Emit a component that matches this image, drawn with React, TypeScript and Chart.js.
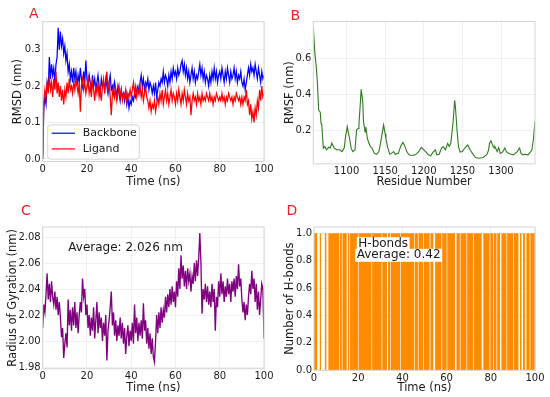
import React, { useEffect, useRef } from "react";
import { Chart, registerables } from "chart.js";

Chart.register(...registerables);

// ---------------- shared look ----------------
const FONT = "'DejaVu Sans', 'Liberation Sans', Arial, sans-serif";
const TEXT = "#1a1a1a";
const GRID = "#ececec";
const FRAME = "#d4d4d4";
const TICK_SIZE = 10;
const TITLE_SIZE = 11.5;
const PANEL_RED = "#ee2222";

// ---------------- Panel A: RMSD ----------------
const SAMPLE_STEP_NS = 0.5;
const timeTicks = [0, 20, 40, 60, 80, 100];
const rmsdTicks = [0.0, 0.1, 0.2, 0.3];
const backboneRmsd = [
  0.00, 0.14, 0.17, 0.15, 0.21, 0.19, 0.28, 0.22, 0.26, 0.23, 0.25, 0.21, 0.26, 0.28, 0.36, 0.30, 0.35, 0.31, 0.33, 0.29,
  0.31, 0.27, 0.29, 0.24, 0.26, 0.22, 0.24, 0.21, 0.25, 0.22, 0.24, 0.20, 0.23, 0.21, 0.25, 0.22, 0.20, 0.24, 0.21, 0.27,
  0.22, 0.20, 0.23, 0.21, 0.19, 0.23, 0.20, 0.22, 0.19, 0.21, 0.23, 0.20, 0.18, 0.22, 0.20, 0.21, 0.19, 0.22, 0.20, 0.18,
  0.21, 0.23, 0.19, 0.20, 0.18, 0.21, 0.19, 0.17, 0.20, 0.18, 0.16, 0.19, 0.17, 0.18, 0.16, 0.19, 0.15, 0.17, 0.14, 0.16,
  0.15, 0.17, 0.16, 0.18, 0.17, 0.19, 0.20, 0.18, 0.21, 0.23, 0.20, 0.22, 0.19, 0.21, 0.20, 0.22, 0.19, 0.21, 0.20, 0.18,
  0.20, 0.18, 0.21, 0.17, 0.19, 0.21, 0.20, 0.22, 0.21, 0.24, 0.21, 0.23, 0.22, 0.20, 0.23, 0.21, 0.24, 0.22, 0.25, 0.23,
  0.24, 0.22, 0.25, 0.23, 0.24, 0.26, 0.27, 0.24, 0.26, 0.23, 0.25, 0.22, 0.24, 0.21, 0.23, 0.25, 0.22, 0.24, 0.21, 0.23,
  0.22, 0.24, 0.26, 0.23, 0.25, 0.22, 0.24, 0.21, 0.23, 0.22, 0.20, 0.23, 0.21, 0.24, 0.22, 0.25, 0.22, 0.24, 0.21, 0.23,
  0.24, 0.22, 0.25, 0.23, 0.21, 0.24, 0.22, 0.25, 0.23, 0.21, 0.24, 0.22, 0.23, 0.25, 0.22, 0.24, 0.21, 0.23, 0.22, 0.24,
  0.21, 0.20, 0.22, 0.19, 0.21, 0.23, 0.25, 0.23, 0.26, 0.24, 0.25, 0.23, 0.26, 0.24, 0.22, 0.25, 0.23, 0.21, 0.24, 0.22,
  0.23,
];
const ligandRmsd = [
  0.00, 0.16, 0.19, 0.17, 0.21, 0.18, 0.23, 0.19, 0.21, 0.17, 0.22, 0.19, 0.24, 0.18, 0.21, 0.17, 0.20, 0.16, 0.19, 0.15,
  0.19, 0.17, 0.21, 0.18, 0.22, 0.19, 0.20, 0.18, 0.21, 0.19, 0.22, 0.20, 0.18, 0.21, 0.13, 0.20, 0.22, 0.19, 0.21, 0.18,
  0.20, 0.22, 0.18, 0.20, 0.17, 0.21, 0.19, 0.16, 0.20, 0.18, 0.21, 0.17, 0.19, 0.16, 0.20, 0.22, 0.18, 0.21, 0.24, 0.19,
  0.21, 0.17, 0.12, 0.18, 0.20, 0.17, 0.19, 0.16, 0.18, 0.20, 0.17, 0.19, 0.16, 0.18, 0.17, 0.19, 0.16, 0.18, 0.17, 0.19,
  0.17, 0.19, 0.21, 0.18, 0.20, 0.17, 0.19, 0.18, 0.20, 0.17, 0.19, 0.16, 0.18, 0.20, 0.17, 0.16, 0.14, 0.16, 0.13, 0.15,
  0.14, 0.16, 0.13, 0.15, 0.17, 0.15, 0.18, 0.16, 0.19, 0.15, 0.17, 0.19, 0.16, 0.18, 0.15, 0.17, 0.19, 0.16, 0.18, 0.17,
  0.15, 0.18, 0.16, 0.19, 0.17, 0.15, 0.18, 0.16, 0.19, 0.17, 0.15, 0.18, 0.16, 0.17, 0.12, 0.16, 0.18, 0.16, 0.17, 0.15,
  0.18, 0.16, 0.17, 0.15, 0.18, 0.16, 0.17, 0.16, 0.18, 0.17, 0.16, 0.18, 0.16, 0.17, 0.15, 0.17, 0.16, 0.18, 0.17, 0.16,
  0.17, 0.16, 0.18, 0.16, 0.17, 0.15, 0.17, 0.16, 0.18, 0.17, 0.16, 0.17, 0.15, 0.17, 0.16, 0.18, 0.17, 0.16, 0.17, 0.15,
  0.17, 0.15, 0.17, 0.16, 0.19, 0.15, 0.16, 0.12, 0.15, 0.11, 0.13, 0.10, 0.14, 0.12, 0.16, 0.14, 0.19, 0.16, 0.20, 0.17,
  0.18,
];
const rmsdLegend = [
  { label: "Backbone", color: "#0000ff" },
  { label: "Ligand", color: "#ff0000" },
];

// ---------------- Panel B: RMSF ----------------
const residueTicks = [1100, 1150, 1200, 1250, 1300];
const rmsfTicks = [0.2, 0.4, 0.6];
const rmsfResidues = [
  1057, 1059, 1061, 1062, 1064, 1066, 1067, 1068, 1070, 1072, 1074, 1077, 1079, 1081, 1084, 1087, 1091, 1094, 1097, 1099,
  1101, 1103, 1104, 1106, 1108, 1111, 1113, 1115, 1116, 1118, 1119, 1121, 1122, 1124, 1125, 1127, 1129, 1131, 1133, 1136,
  1139, 1142, 1144, 1148, 1150, 1151, 1153, 1156, 1158, 1161, 1163, 1167, 1170, 1173, 1175, 1178, 1181, 1184, 1189, 1193,
  1197, 1200, 1203, 1206, 1209, 1212, 1215, 1217, 1220, 1223, 1225, 1228, 1231, 1233, 1235, 1238, 1240, 1241, 1243, 1245,
  1247, 1250, 1253, 1254, 1257, 1260, 1263, 1267, 1271, 1277, 1282, 1284, 1285, 1287, 1289, 1291, 1292, 1295, 1297, 1299,
  1302, 1305, 1307, 1310, 1313, 1316, 1321, 1324, 1326, 1328, 1331, 1335, 1338, 1340, 1342, 1344,
];
const rmsfValues = [
  0.771, 0.633, 0.541, 0.486, 0.310, 0.300, 0.237, 0.228, 0.099, 0.108, 0.090, 0.104, 0.100, 0.128, 0.100, 0.090, 0.090, 0.080, 0.100, 0.172,
  0.218, 0.172, 0.153, 0.099, 0.080, 0.090, 0.200, 0.209, 0.228, 0.357, 0.427, 0.357, 0.246, 0.190, 0.218, 0.153, 0.126, 0.108, 0.100, 0.070,
  0.065, 0.080, 0.126, 0.228, 0.180, 0.153, 0.108, 0.065, 0.070, 0.080, 0.065, 0.070, 0.108, 0.131, 0.117, 0.080, 0.062, 0.058, 0.062, 0.077,
  0.103, 0.090, 0.077, 0.062, 0.056, 0.077, 0.090, 0.062, 0.065, 0.100, 0.108, 0.090, 0.126, 0.108, 0.126, 0.246, 0.366, 0.330, 0.200, 0.108,
  0.077, 0.080, 0.100, 0.104, 0.117, 0.090, 0.070, 0.047, 0.043, 0.047, 0.065, 0.090, 0.126, 0.140, 0.117, 0.100, 0.108, 0.080, 0.103, 0.070,
  0.077, 0.100, 0.080, 0.070, 0.065, 0.062, 0.080, 0.100, 0.070, 0.062, 0.065, 0.062, 0.077, 0.090, 0.150, 0.250,
];

// ---------------- Panel C: Radius of gyration ----------------
const rgTicks = [1.98, 2.0, 2.02, 2.04, 2.06, 2.08];
const rgAverageText = "Average: 2.026 nm";
const radiusOfGyration = [
  2.010, 2.028, 2.022, 2.036, 2.052, 2.032, 2.044, 2.030, 2.046, 2.034, 2.028, 2.038, 2.024, 2.034, 2.020, 2.030, 2.018, 2.003, 2.010, 1.987,
  1.998, 2.006, 1.995, 2.032, 2.012, 2.024, 2.008, 2.026, 2.012, 2.030, 2.010, 2.022, 2.006, 2.020, 2.030, 2.022, 2.048, 2.034, 2.040, 2.020,
  2.028, 2.010, 2.020, 2.004, 2.018, 2.008, 2.026, 2.002, 2.016, 2.030, 2.006, 2.022, 2.010, 2.018, 2.000, 2.014, 2.004, 2.020, 1.985, 2.008,
  2.016, 2.026, 2.038, 2.012, 2.022, 2.004, 2.016, 2.000, 2.012, 2.004, 2.018, 2.002, 2.014, 1.998, 2.010, 1.990, 2.004, 2.012, 1.996, 2.008,
  2.000, 2.014, 1.998, 2.028, 2.006, 2.018, 2.000, 2.014, 2.004, 2.016, 2.002, 2.029, 2.008, 2.016, 1.998, 2.010, 1.994, 2.006, 1.990, 2.002,
  1.988, 1.984, 2.000, 2.020, 2.006, 2.022, 2.010, 2.026, 2.014, 2.024, 2.018, 2.034, 2.022, 2.036, 2.026, 2.040, 2.028, 2.042, 2.030, 2.038,
  2.026, 2.046, 2.034, 2.056, 2.040, 2.066, 2.048, 2.058, 2.042, 2.054, 2.040, 2.056, 2.046, 2.052, 2.038, 2.050, 2.044, 2.060, 2.046, 2.062,
  2.050, 2.064, 2.083, 2.060, 2.021, 2.040, 2.032, 2.044, 2.030, 2.042, 2.028, 2.038, 2.026, 2.044, 2.030, 2.040, 2.008, 2.034, 2.026, 2.046,
  2.034, 2.052, 2.036, 2.046, 2.030, 2.042, 2.034, 2.048, 2.036, 2.044, 2.030, 2.046, 2.038, 2.048, 2.034, 2.050, 2.040, 2.059, 2.042, 2.048,
  2.032, 2.022, 2.030, 2.016, 2.028, 2.020, 2.034, 2.044, 2.036, 2.054, 2.040, 2.048, 2.030, 2.044, 2.024, 2.038, 2.020, 2.032, 2.044, 2.040,
  2.002,
];

// ---------------- Panel D: H-bonds ----------------
const hbondTicks = [0.0, 0.2, 0.4, 0.6, 0.8, 1.0];
const hbondLabel = "H-bonds";
const hbondAverageText = "Average: 0.42";
// time windows (ns) in which no hydrogen bond is present
const hbondGaps: [number, number][] = [
  [1.5, 2.6], [3.2, 4.9], [5.6, 6.5], [11.4, 11.7], [12.6, 12.9], [14.8, 15.3], [16.0, 16.3], [20.0, 20.3],
  [26.0, 26.3], [30.6, 30.9], [33.0, 33.5], [34.5, 34.8], [39.0, 39.3], [45.3, 45.6], [47.0, 47.3], [49.4, 49.7],
  [52.3, 52.7], [54.0, 54.8], [57.7, 58.0], [60.0, 60.3], [63.8, 64.5], [66.0, 66.3], [69.0, 69.3], [72.0, 72.3],
  [75.9, 76.6], [79.5, 79.8], [81.0, 81.3], [82.6, 82.9], [84.2, 84.8], [87.1, 87.4], [90.2, 90.5], [92.5, 93.2],
  [93.9, 94.6], [95.5, 96.1], [97.6, 97.9],
];

// ---------------- layout helpers ----------------
type Spec = { L: number; T: number; R: number; B: number; yTitleCX: number; xTitleCY: number };
type AxisDef = { min: number; max: number; ticks: number[]; title: string; format: (v: number) => string };

function geometry(s: Spec) {
  const lh = TITLE_SIZE * 1.2;
  const cl = Math.max(0, Math.floor(s.L - 46));
  const ct = Math.floor(s.T - 12);
  const cr = Math.min(550, Math.ceil(s.R + 14));
  const cb = Math.min(397, Math.ceil(s.xTitleCY + 9));
  return {
    cl, ct, w: cr - cl, h: cb - ct,
    padTop: s.T - ct, padRight: cr - s.R,
    yAxisW: s.L - cl, xAxisH: cb - s.B,
    yTitlePad: s.yTitleCX - cl - lh / 2,
    xTitlePad: cb - s.xTitleCY - lh / 2,
  };
}

function buildScales(g: ReturnType<typeof geometry>, x: AxisDef, y: AxisDef) {
  const tickFont = { family: FONT, size: TICK_SIZE };
  const titleFont = { family: FONT, size: TITLE_SIZE };
  return {
    x: {
      type: "linear",
      min: x.min,
      max: x.max,
      afterBuildTicks: (sc: any) => { sc.ticks = x.ticks.map((value) => ({ value })); },
      afterFit: (sc: any) => { sc.height = g.xAxisH; },
      grid: { color: GRID, lineWidth: 0.8, drawTicks: false },
      border: { display: false },
      ticks: { padding: 2, color: TEXT, font: tickFont, maxRotation: 0, autoSkip: false, callback: (v: any) => x.format(Number(v)) },
      title: { display: true, text: x.title, color: TEXT, font: titleFont, padding: { top: 0, bottom: g.xTitlePad } },
    },
    y: {
      type: "linear",
      min: y.min,
      max: y.max,
      afterBuildTicks: (sc: any) => { sc.ticks = y.ticks.map((value) => ({ value })); },
      afterFit: (sc: any) => { sc.width = g.yAxisW; },
      grid: { color: GRID, lineWidth: 0.8, drawTicks: false },
      border: { display: false },
      ticks: { padding: 2, color: TEXT, font: tickFont, autoSkip: false, callback: (v: any) => y.format(Number(v)) },
      title: { display: true, text: y.title, color: TEXT, font: titleFont, padding: { top: g.yTitlePad, bottom: 0 } },
    },
  };
}

const framePlugin = {
  id: "frame",
  afterDatasetsDraw(chart: any) {
    const { ctx, chartArea: a } = chart;
    ctx.save();
    ctx.strokeStyle = FRAME;
    ctx.lineWidth = 1;
    ctx.strokeRect(a.left, a.top, a.right - a.left, a.bottom - a.top);
    ctx.restore();
  },
};

function baseOptions(g: ReturnType<typeof geometry>, scales: any) {
  return {
    responsive: false,
    maintainAspectRatio: false,
    animation: false,
    devicePixelRatio: 1,
    layout: { padding: { left: 0, top: g.padTop, right: g.padRight, bottom: 0 } },
    plugins: { legend: { display: false }, tooltip: { enabled: false } },
    elements: { point: { radius: 0 }, line: { tension: 0 } },
    scales,
  };
}

function Panel({ spec, make }: { spec: Spec; make: (g: ReturnType<typeof geometry>) => any }) {
  const ref = useRef<HTMLCanvasElement>(null);
  const g = geometry(spec);
  useEffect(() => {
    const chart = new Chart(ref.current as HTMLCanvasElement, make(g));
    return () => chart.destroy();
  }, []);
  return (
    <canvas
      ref={ref}
      width={g.w}
      height={g.h}
      style={{ position: "absolute", left: g.cl, top: g.ct, width: g.w, height: g.h, display: "block" }}
    />
  );
}

const timeSeries = (vals: number[]) => vals.map((v, i) => ({ x: i * SAMPLE_STEP_NS, y: v }));
const fmt1 = (v: number) => v.toFixed(1);
const fmt2 = (v: number) => v.toFixed(2);
const fmt0 = (v: number) => String(Math.round(v));

// ---------------- panel configs ----------------
const specA: Spec = { L: 42.7, T: 21.7, R: 264, B: 161.5, yTitleCX: 18.3, xTitleCY: 181.7 };
const specB: Spec = { L: 313.3, T: 21.5, R: 535, B: 163.8, yTitleCX: 290, xTitleCY: 181.7 };
const specC: Spec = { L: 42.7, T: 227, R: 264, B: 368.7, yTitleCX: 13.3, xTitleCY: 387.7 };
const specD: Spec = { L: 314, T: 227, R: 535, B: 370.3, yTitleCX: 290, xTitleCY: 387.7 };

function makeA(g: any) {
  const legendPlugin = {
    id: "rmsdLegend",
    afterDraw(chart: any) {
      const { ctx, chartArea: a } = chart;
      const bw = 91.6, bh = 34.3;
      const bx = a.left + 5, by = a.bottom - 2.3 - bh;
      ctx.save();
      ctx.beginPath();
      (ctx as any).roundRect(bx, by, bw, bh, 3);
      ctx.fillStyle = "rgba(255,255,255,0.8)";
      ctx.fill();
      ctx.strokeStyle = "#cccccc";
      ctx.lineWidth = 0.8;
      ctx.stroke();
      ctx.font = `11px ${FONT}`;
      ctx.textBaseline = "middle";
      rmsdLegend.forEach((item, i) => {
        const yy = by + 8.3 + i * 15.7;
        ctx.strokeStyle = item.color;
        ctx.lineWidth = 1.2;
        ctx.beginPath();
        ctx.moveTo(bx + 4, yy);
        ctx.lineTo(bx + 27.3, yy);
        ctx.stroke();
        ctx.fillStyle = TEXT;
        ctx.fillText(item.label, bx + 35, yy);
      });
      ctx.restore();
    },
  };
  return {
    type: "line",
    data: {
      datasets: [
        { label: rmsdLegend[0].label, data: timeSeries(backboneRmsd), borderColor: rmsdLegend[0].color, borderWidth: 1.25, order: 2 },
        { label: rmsdLegend[1].label, data: timeSeries(ligandRmsd), borderColor: rmsdLegend[1].color, borderWidth: 1.25, order: 1 },
      ],
    },
    options: baseOptions(g, buildScales(g,
      { min: 0, max: 100, ticks: timeTicks, title: "Time (ns)", format: fmt0 },
      { min: -0.007, max: 0.377, ticks: rmsdTicks, title: "RMSD (nm)", format: fmt1 })),
    plugins: [framePlugin, legendPlugin],
  };
}

function makeB(g: any) {
  return {
    type: "line",
    data: {
      datasets: [
        { label: "RMSF", data: rmsfResidues.map((r, i) => ({ x: r, y: rmsfValues[i] })), borderColor: "#2f7a1f", borderWidth: 1.1 },
      ],
    },
    options: baseOptions(g, buildScales(g,
      { min: 1057, max: 1344, ticks: residueTicks, title: "Residue Number", format: fmt0 },
      { min: 0.012, max: 0.805, ticks: rmsfTicks, title: "RMSF (nm)", format: fmt1 })),
    plugins: [framePlugin],
  };
}

function makeC(g: any) {
  const notePlugin = {
    id: "rgNote",
    afterDraw(chart: any) {
      const { ctx, chartArea: a } = chart;
      ctx.save();
      ctx.font = `12px ${FONT}`;
      ctx.fillStyle = TEXT;
      ctx.textBaseline = "middle";
      ctx.fillText(rgAverageText, a.left + 25.6, a.top + 21);
      ctx.restore();
    },
  };
  return {
    type: "line",
    data: {
      datasets: [
        { label: "Rg", data: timeSeries(radiusOfGyration), borderColor: "#800080", borderWidth: 1.35 },
      ],
    },
    options: baseOptions(g, buildScales(g,
      { min: 0, max: 100, ticks: timeTicks, title: "Time (ns)", format: fmt0 },
      { min: 1.9787, max: 2.0877, ticks: rgTicks, title: "Radius of Gyration (nm)", format: fmt2 })),
    plugins: [framePlugin, notePlugin],
  };
}

function makeD(g: any) {
  const pts: { x: number; y: number }[] = [{ x: 0, y: 1 }];
  hbondGaps.forEach(([s, e]) => { pts.push({ x: s, y: 0 }); pts.push({ x: e, y: 1 }); });
  pts.push({ x: 100, y: 1 });
  const notePlugin = {
    id: "hbNote",
    afterDraw(chart: any) {
      const { ctx, chartArea: a } = chart;
      ctx.save();
      ctx.font = `12px ${FONT}`;
      ctx.textBaseline = "middle";
      const rows = [
        { text: hbondLabel, x: a.left + 44.3, y: a.top + 16.7 },
        { text: hbondAverageText, x: a.left + 42.7, y: a.top + 28.3 },
      ];
      rows.forEach((r) => {
        const w = ctx.measureText(r.text).width;
        ctx.fillStyle = "#ffffff";
        ctx.fillRect(r.x - 1.5, r.y - 6.5, w + 3, 13);
      });
      rows.forEach((r) => {
        ctx.fillStyle = TEXT;
        ctx.fillText(r.text, r.x, r.y);
      });
      ctx.restore();
    },
  };
  return {
    type: "line",
    data: {
      datasets: [
        { label: hbondLabel, data: pts, stepped: true, fill: "origin", backgroundColor: "#ff8c00", borderWidth: 0, borderColor: "rgba(0,0,0,0)" },
      ],
    },
    options: baseOptions(g, buildScales(g,
      { min: 0, max: 100, ticks: timeTicks, title: "Time (ns)", format: fmt0 },
      { min: 0, max: 1.045, ticks: hbondTicks, title: "Number of H-bonds", format: fmt1 })),
    plugins: [framePlugin, notePlugin],
  };
}

const panelLetters = [
  { text: "A", left: 29, top: 6 },
  { text: "B", left: 290.6, top: 8 },
  { text: "C", left: 21, top: 203 },
  { text: "D", left: 286.6, top: 203 },
];

export default function App() {
  return (
    <div style={{ position: "absolute", left: 0, top: 0, width: 550, height: 397, overflow: "hidden", background: "#ffffff" }}>
      <Panel spec={specA} make={makeA} />
      <Panel spec={specB} make={makeB} />
      <Panel spec={specC} make={makeC} />
      <Panel spec={specD} make={makeD} />
      {panelLetters.map((p) => (
        <div
          key={p.text}
          style={{
            position: "absolute", left: p.left, top: p.top, fontFamily: FONT, fontSize: 14,
            lineHeight: "14px", color: PANEL_RED, whiteSpace: "nowrap",
          }}
        >
          {p.text}
        </div>
      ))}
    </div>
  );
}
